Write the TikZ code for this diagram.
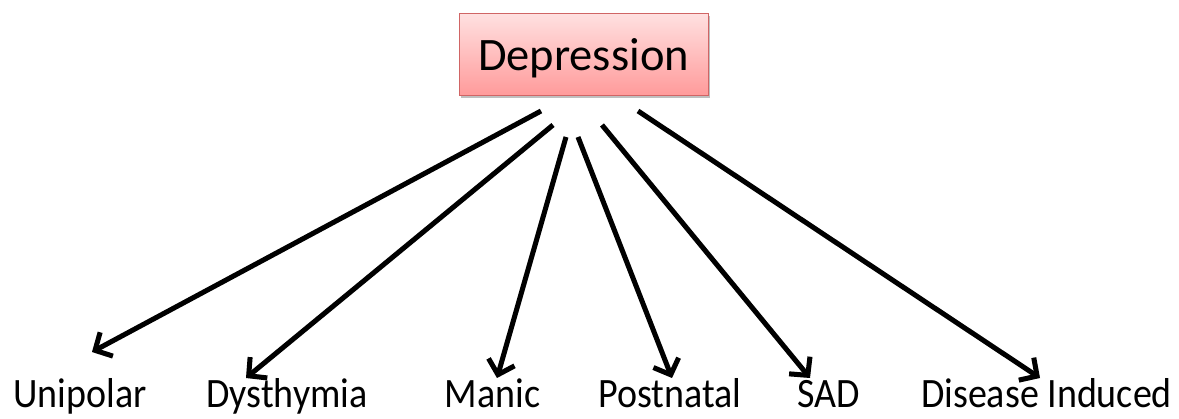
\documentclass[tikz,border=0pt]{standalone}
\usepackage{fontspec}
\setmainfont{Carlito}
\usetikzlibrary{arrows.meta,shadows}
\definecolor{boxtop}{HTML}{FFE0E0}
\definecolor{boxbot}{HTML}{FF9A9A}
\definecolor{boxedge}{HTML}{D06565}
\newcommand{\tall}[1]{\scalebox{1}[1.1]{#1}}
\tikzset{
  rootbox/.style={draw=boxedge, line width=1pt, top color=boxtop, bottom color=boxbot,
    minimum width=249pt, minimum height=82pt, inner sep=0pt, text depth=0pt,
    font=\fontsize{46.5}{50}\selectfont,
    drop shadow={shadow xshift=1.5pt, shadow yshift=-2.5pt, fill=black, opacity=0.25}},
  leaf/.style={font=\fontsize{38}{42}\selectfont, inner sep=0pt, anchor=base},
  branch/.style={line width=5pt, -{Straight Barb[length=13pt,width=27pt,line width=5pt]}},
  branchshadow/.style={branch, draw=black, opacity=0.12, shift={(1.5,2.5)}}
}
\begin{document}
\begin{tikzpicture}[x=1pt,y=-1pt]
\useasboundingbox (0,0) rectangle (1179,419);
\node[rootbox] (root) at (583.5,55) {Depression};
\node[leaf] (uni) at (80,408) {\tall{Unipolar}};
\node[leaf] (dys) at (287,408) {\tall{Dysthymia}};
\node[leaf] (man) at (492.5,408) {\tall{Manic}};
\node[leaf] (pos) at (670,408) {\tall{Postnatal}};
\node[leaf] (sad) at (829,408) {\tall{SAD}};
\node[leaf] (dis) at (1046.5,408) {\tall{Disease Induced}};
\coordinate (s1) at (541,111);
\coordinate (s2) at (553,125);
\coordinate (s3) at (566,137);
\coordinate (s4) at (578,137);
\coordinate (s5) at (602,125);
\coordinate (s6) at (638,111);
\coordinate (t1) at (92,352);
\coordinate (t2) at (246,378);
\coordinate (t3) at (497,378);
\coordinate (t4) at (672,378);
\coordinate (t5) at (810,378);
\coordinate (t6) at (1040,378);
\foreach \i in {1,...,6}{
  \draw[branchshadow] (s\i) -- (t\i);
}
\foreach \i in {1,...,6}{
  \draw[branch] (s\i) -- (t\i);
}
\end{tikzpicture}
\end{document}
